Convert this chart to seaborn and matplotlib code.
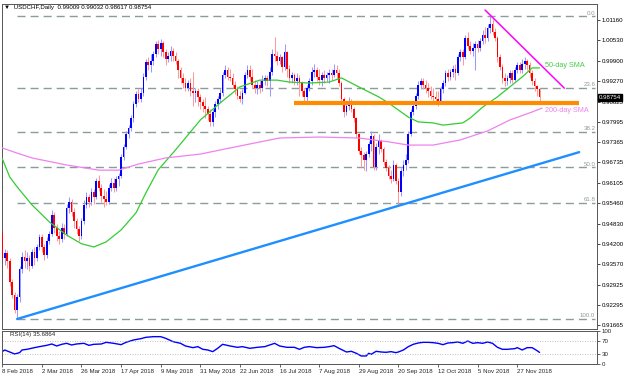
import numpy as np
import pandas as pd
import matplotlib
matplotlib.use('Agg')
import matplotlib.pyplot as plt
import matplotlib.transforms as mtransforms
import seaborn as sns

# # Data: USDCHF daily, 8 Feb 2018 - 10 Dec 2018 (one value per bar)
first_open = 0.9455
closes = [
    .9375, .9390, .9365, .9300, .9260, .9215, .9255, .9340, .9380, .9365,
    .9375, .9350, .9395, .9375, .9410, .9440, .9410, .9385, .9430, .9450,
    .9510, .9470, .9445, .9435, .9470, .9450, .9530, .9550, .9520, .9490,
    .9465, .9445, .9490, .9540, .9565, .9550, .9580, .9565, .9615, .9595,
    .9570, .9560, .9550, .9595, .9610, .9595, .9620, .9630, .9690, .9720,
    .9760, .9780, .9810, .9855, .9885, .9870, .9890, .9940, .9985, .9975,
    .9990, 1.0010, 1.0040, 1.0025, 1.0045, 1.0015, .9995, 1.0005, 1.0020, 1.0005,
    .9990, .9960, .9935, .9920, .9905, .9920, .9895, .9890, .9895, .9875,
    .9860, .9850, .9840, .9825, .9800, .9830, .9855, .9870, .9890, .9945,
    .9960, .9940, .9935, .9915, .9900, .9880, .9870, .9890, .9945, .9960,
    .9940, .9915, .9905, .9915, .9905, .9925, .9935, .9925, .9955, 1.0010,
    1.0005, .9990, 1.0000, .9970, 1.0015, .9965, .9935, .9945, .9925, .9935,
    .9920, .9895, .9875, .9905, .9925, .9955, .9960, .9940, .9930, .9945,
    .9935, .9945, .9950, .9945, .9960, .9950, .9920, .9870, .9830, .9850,
    .9860, .9840, .9810, .9760, .9710, .9695, .9680, .9700, .9730, .9755,
    .9660, .9720, .9740, .9715, .9675, .9655, .9630, .9620, .9665, .9615,
    .9580, .9645, .9665, .9680, .9760, .9830, .9850, .9880, .9915, .9925,
    .9915, .9905, .9895, .9880, .9875, .9870, .9865, .9900, .9920, .9950,
    .9940, .9955, .9965, .9950, 1.0000, 1.0015, 1.0000, 1.0060, 1.0035, 1.0020,
    1.0030, 1.0040, 1.0030, 1.0050, 1.0070, 1.0060, 1.0090, 1.0105, 1.0080, 1.0060,
    1.0000, .9970, .9935, .9925, .9935, .9950, .9930, .9960, .9975, .9960,
    .9980, .9990, .9975, .9950, .9925, .9910, .99009, .98754,
]
highs = [
    .9465, .9405, .9400, .9375, .9310, .9270, .9265, .9350, .9395, .9400,
    .9395, .9385, .9405, .9410, .9420, .9450, .9450, .9420, .9440, .9460,
    .9525, .9520, .9480, .9460, .9485, .9480, .9545, .9565, .9560, .9530,
    .9500, .9475, .9500, .9555, .9580, .9575, .9595, .9590, .9625, .9635,
    .9605, .9590, .9585, .9605, .9625, .9625, .9630, .9640, .9700, .9730,
    .9770, .9790, .9820, .9865, .9895, .9900, .9905, .9950, .9995, 1.0000,
    1.0010, 1.0020, 1.0050, 1.0055, 1.0056, 1.0050, 1.0025, 1.0015, 1.0035, 1.0030,
    1.0015, .9995, .9970, .9950, .9935, .9930, .9935, .9955, .9905, .9905,
    .9885, .9870, .9875, .9850, .9840, .9840, .9865, .9880, .9900, .9955,
    .9975, .9970, .9965, .9950, .9925, .9910, .9895, .9900, .9955, .9975,
    .9975, .9965, .9930, .9925, .9930, .9945, .9945, .9945, .9970, 1.0025,
    1.0063, 1.0020, 1.0010, 1.0005, 1.0040, 1.0020, .9975, .9955, .9950, .9950,
    .9945, .9925, .9905, .9915, .9935, .9970, .9980, .9970, .9965, .9955,
    .9960, .9955, .9965, .9965, .9980, .9975, .9965, .9925, .9875, .9860,
    .9875, .9870, .9845, .9815, .9765, .9720, .9705, .9710, .9740, .9770,
    .9760, .9735, .9760, .9745, .9720, .9685, .9665, .9650, .9680, .9670,
    .9625, .9655, .9680, .9700, .9770, .9840, .9865, .9890, .9925, .9935,
    .9935, .9930, .9920, .9910, .9905, .9895, .9895, .9910, .9930, .9960,
    .9965, .9965, .9975, .9980, 1.0010, 1.0025, 1.0025, 1.0070, 1.0080, 1.0050,
    1.0045, 1.0050, 1.0055, 1.0060, 1.0085, 1.0095, 1.0105, 1.0128, 1.0120, 1.0090,
    1.0065, 1.0010, .9980, .9950, .9945, .9960, .9960, .9970, .9985, .9985,
    .9995, 1.0000, .9995, .9985, .9960, .9935, .9915, .99032,
]
lows = [
    .9360, .9355, .9345, .9290, .9250, .9205, .9187, .9240, .9330, .9345,
    .9340, .9335, .9345, .9355, .9365, .9400, .9395, .9370, .9375, .9420,
    .9445, .9455, .9430, .9420, .9425, .9435, .9445, .9515, .9505, .9470,
    .9450, .9430, .9435, .9480, .9530, .9535, .9540, .9545, .9560, .9585,
    .9550, .9535, .9540, .9545, .9585, .9580, .9585, .9600, .9625, .9680,
    .9715, .9750, .9770, .9800, .9845, .9860, .9860, .9880, .9930, .9960,
    .9955, .9975, 1.0000, 1.0010, 1.0005, 1.0000, .9975, .9985, .9990, .9990,
    .9980, .9935, .9920, .9905, .9895, .9895, .9880, .9850, .9860, .9850,
    .9840, .9830, .9810, .9805, .9785, .9785, .9815, .9840, .9860, .9880,
    .9935, .9930, .9925, .9905, .9885, .9870, .9860, .9855, .9885, .9935,
    .9925, .9905, .9890, .9885, .9890, .9895, .9915, .9910, .9880, .9945,
    .9990, .9975, .9980, .9955, .9960, .9940, .9920, .9920, .9915, .9915,
    .9880, .9880, .9858, .9865, .9895, .9915, .9940, .9925, .9915, .9910,
    .9920, .9925, .9920, .9930, .9940, .9935, .9910, .9855, .9815, .9820,
    .9835, .9830, .9800, .9750, .9700, .9660, .9650, .9645, .9690, .9710,
    .9650, .9650, .9700, .9705, .9665, .9645, .9620, .9610, .9615, .9605,
    .9542, .9570, .9630, .9650, .9670, .9755, .9820, .9840, .9870, .9900,
    .9900, .9890, .9875, .9870, .9860, .9855, .9850, .9860, .9890, .9910,
    .9925, .9930, .9940, .9930, .9945, .9990, .9975, .9995, 1.0025, 1.0010,
    1.0005, .9960, 1.0015, 1.0020, 1.0040, 1.0045, 1.0050, 1.0075, 1.0070, 1.0050,
    .9985, .9960, .9920, .9910, .9915, .9920, .9920, .9925, .9950, .9950,
    .9950, .9965, .9960, .9940, .9915, .9895, .9880, .98617,
]

# moving averages (bar index, price)
sma50_idx = [0, 3, 6, 12, 19, 26, 32, 37, 42, 48, 54, 58, 63, 70, 80, 88, 96, 104,
             111, 116, 124, 132, 137, 144, 152, 156, 164, 168, 174, 178, 186, 189,
             194, 200, 205, 210, 214, 217]
sma50 = [.9685, .9628, .9597, .9541, .9488, .9447, .9420, .9410, .9426, .9463,
         .9516, .9578, .9650, .9712, .9805, .9858, .9908, .9929, .9929, .9923,
         .9920, .9923, .9936, .9908, .9877, .9858, .9814, .9799, .9796, .9789,
         .9796, .9811, .9845, .9877, .9908, .9939, .9967, .9967]
sma200_idx = [0, 6, 12, 26, 39, 47, 55, 66, 80, 92, 112, 128, 144, 156, 164, 174,
              185, 196, 205, 214, 218]
sma200 = [.9718, .9702, .9687, .9665, .9649, .9649, .9668, .9687, .9699, .9718,
          .9749, .9752, .9749, .9737, .9727, .9727, .9743, .9771, .9805, .9830, .9842]

# RSI(14)
rsi_idx = [0, 1, 5, 7, 8, 10, 13, 15, 18, 20, 22, 24, 26, 28, 30, 33, 35, 37, 40,
           42, 45, 48, 50, 53, 56, 58, 61, 64, 66, 69, 72, 74, 77, 79, 81, 83, 85,
           87, 89, 92, 95, 97, 100, 103, 106, 108, 110, 112, 115, 118, 120, 122,
           124, 127, 130, 132, 134, 136, 139, 141, 143, 145, 147, 148, 149, 151,
           153, 155, 157, 159, 160, 162, 164, 166, 168, 170, 172, 174, 176, 178,
           180, 182, 184, 186, 188, 190, 192, 194, 196, 198, 200, 202, 204, 207,
           208, 210, 212, 214, 216, 217]
rsi_vals = [38, 43, 31, 35, 43, 45, 50, 53, 57, 61, 55, 60, 63, 58, 61, 63, 57, 60,
            61, 66, 63, 59, 66, 73, 77, 81, 83, 83, 78, 68, 63, 55, 50, 53, 45, 43,
            38, 48, 60, 55, 51, 53, 48, 51, 53, 58, 63, 55, 51, 51, 45, 51, 53, 50,
            51, 53, 56, 48, 37, 39, 33, 25, 25, 33, 30, 39, 37, 36, 38, 35, 37, 43,
            53, 60, 64, 66, 66, 65, 63, 59, 64, 65, 67, 63, 70, 63, 65, 63, 67, 63,
            51, 45, 45, 47, 50, 43, 50, 50, 41, 35.69]

# drawn objects (anchor bar, price)
fib_low, fib_high, fib_start = 0.9187, 1.0128, 6
fib_levels = [0.0, 23.6, 38.2, 50.0, 61.8, 100.0]
support_x, support_y = [118, 233], [0.9858, 0.9858]
uptrend_x, uptrend_y = [6, 233], [0.9186, 0.9705]
downtrend_x, downtrend_y = [195, 227], [1.0147, 0.9904]

price_ticks = [1.01160, 1.00530, 0.99900, 0.99270, 0.98625, 0.97995, 0.97365,
               0.96735, 0.96105, 0.95460, 0.94830, 0.94200, 0.93570, 0.92925,
               0.92295, 0.91665]
date_labels = ['8 Feb 2018', '2 Mar 2018', '26 Mar 2018', '17 Apr 2018', '9 May 2018',
               '31 May 2018', '22 Jun 2018', '16 Jul 2018', '7 Aug 2018', '29 Aug 2018',
               '20 Sep 2018', '12 Oct 2018', '5 Nov 2018', '27 Nov 2018']

sns.set_theme(style='white')
plt.rcParams['font.family'] = ['Liberation Sans', 'DejaVu Sans']

opens = [first_open] + closes[:-1]
df = pd.DataFrame({'open': opens, 'high': highs, 'low': lows, 'close': closes})
df['bar'] = np.arange(len(df))
df['high'] = df[['open', 'high', 'close']].max(axis=1)
df['low'] = df[['open', 'low', 'close']].min(axis=1)
up = df['close'] >= df['open']

W, H = 624, 378
fig = plt.figure(figsize=(W / 100, H / 100), dpi=100)
ax = fig.add_axes([1.5 / W, 1 - 329 / H, 595.5 / W, 325 / H])
ax_rsi = fig.add_axes([1.5 / W, 1 - 364.3 / H, 595.5 / W, 33.3 / H], sharex=ax)

# candles
ax.vlines(df['bar'][up], df['low'][up], df['high'][up], color='#9a9aff', lw=0.75, zorder=2)
ax.vlines(df['bar'][~up], df['low'][~up], df['high'][~up], color='#ff9a9a', lw=0.75, zorder=2)
body = (df['close'] - df['open']).abs().clip(lower=0.00025)
bottom = df[['open', 'close']].min(axis=1)
ax.bar(df['bar'][up], body[up], bottom=bottom[up], width=0.68, color='#0000ff', lw=0, zorder=3)
ax.bar(df['bar'][~up], body[~up], bottom=bottom[~up], width=0.68, color='#ff0000', lw=0, zorder=3)

# moving averages
sns.lineplot(x=sma50_idx, y=sma50, ax=ax, color='#33cc33', lw=0.9, zorder=4)
sns.lineplot(x=sma200_idx, y=sma200, ax=ax, color='#ee82ee', lw=0.9, zorder=4)
ax.text(219, 0.9973, '50-day SMA', color='#44cc44', fontsize=5.2, va='center', ha='left')
ax.text(219, 0.9833, '200-day SMA', color='#ee82ee', fontsize=5.2, va='center', ha='left')

# fibonacci retracement
x_end = 239.5
for lvl in fib_levels:
    price = fib_high - lvl / 100 * (fib_high - fib_low)
    ax.plot([fib_start, x_end], [price, price], color='#8e9b9b', lw=1.0,
            dashes=(5.8, 3.6), zorder=1)
    ax.text(x_end, price + 0.0002, f'{lvl:.1f}', color='#8e9b9b', fontsize=4.4,
            ha='right', va='bottom')

# trend lines and support
ax.plot(support_x, support_y, color='#ff8c00', lw=3.0, solid_capstyle='butt', zorder=5)
ax.plot(uptrend_x, uptrend_y, color='#1e8fff', lw=1.7, zorder=5)
ax.plot(downtrend_x, downtrend_y, color='#ff00ff', lw=1.1, zorder=5)

ax.set_xlim(-0.3, 240.2)
ax.set_ylim(0.91549, 1.01658)
ax.yaxis.tick_right()
ax.set_yticks(price_ticks)
ax.set_yticklabels([f'{t:.5f}' for t in price_ticks])
ax.tick_params(axis='y', right=True, length=2, width=0.5, pad=1.5, labelsize=4.4,
               colors='black', direction='out')
ax.tick_params(axis='x', bottom=False, labelbottom=False)
for s in ax.spines.values():
    s.set_color('#555555')
    s.set_linewidth(0.7)
ax.set_xlabel('')
ax.set_ylabel('')

# last price marker
trans = mtransforms.blended_transform_factory(ax.transAxes, ax.transData)
ax.text(1.003, closes[-1], f'{closes[-1]:.5f}', transform=trans, color='white',
        fontsize=4.4, va='center', ha='left', zorder=10,
        bbox=dict(facecolor='black', edgecolor='black', pad=0.8))

fig.text(4 / W, 1 - 7 / H, '\u25bc  USDCHF,Daily  0.99009 0.99032 0.98617 0.98754',
         fontsize=4.4, va='center', ha='left', color='black')

# RSI panel
sns.lineplot(x=rsi_idx, y=rsi_vals, ax=ax_rsi, color='#0000ff', lw=1.0)
for lvl in [70, 30]:
    ax_rsi.axhline(lvl, color='#aaaaaa', lw=0.6, ls=(0, (1, 2)))
ax_rsi.set_ylim(0, 100)
ax_rsi.yaxis.tick_right()
ax_rsi.set_yticks([100, 70, 30, 0])
ax_rsi.set_yticklabels(['100', '70', '30', '0'])
ax_rsi.tick_params(axis='y', right=True, length=2, width=0.5, pad=1.5, labelsize=4.4,
                   direction='out')
ax_rsi.set_xticks(np.arange(len(date_labels)) * 16)
ax_rsi.set_xticklabels(date_labels, ha='left')
ax_rsi.tick_params(axis='x', bottom=True, length=2, width=0.5, pad=1.5, labelsize=4.4,
                   direction='out')
for s in ax_rsi.spines.values():
    s.set_color('#555555')
    s.set_linewidth(0.7)
ax_rsi.set_xlabel('')
ax_rsi.set_ylabel('')
ax_rsi.text(8 / 595.5, 0.88, 'RSI(14) 35.6864', transform=ax_rsi.transAxes,
            fontsize=4.4, va='center', ha='left')

fig.savefig('out.png', dpi=100)
